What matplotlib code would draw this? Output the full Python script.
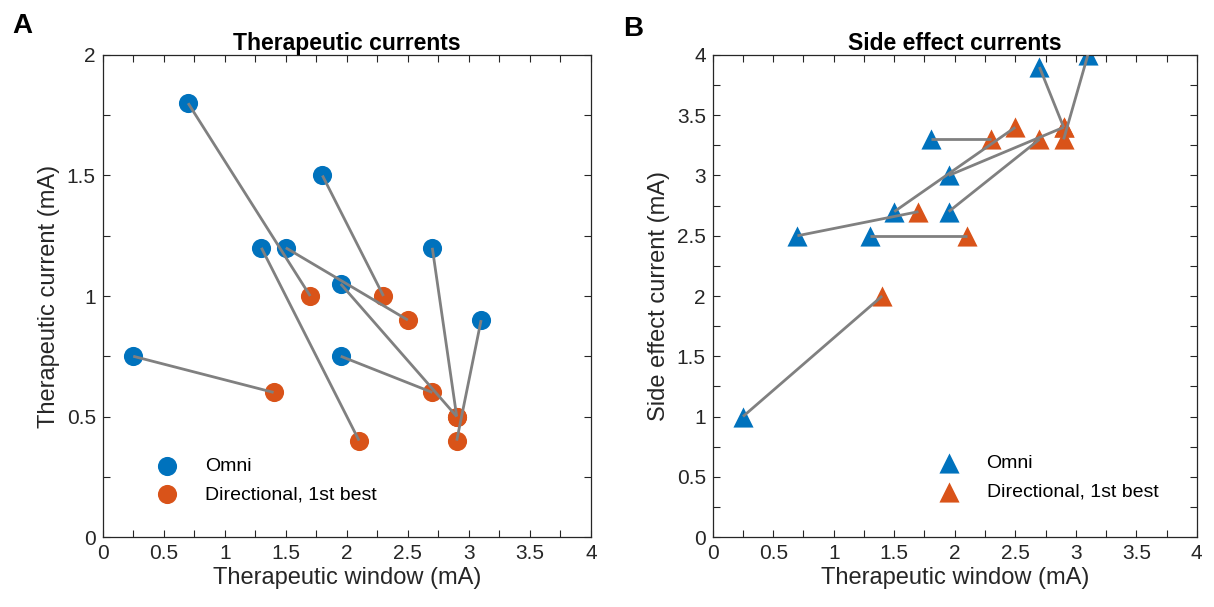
import numpy as np
import matplotlib.pyplot as plt
from matplotlib.ticker import MultipleLocator

plt.rcParams["font.family"] = ["Liberation Sans", "DejaVu Sans"]

# Values, one entry per subject
omni_window = [0.7, 1.8, 1.3, 1.5, 2.7, 3.1, 1.95, 1.95, 0.25]
omni_therapeutic = [1.8, 1.5, 1.2, 1.2, 1.2, 0.9, 1.05, 0.75, 0.75]
omni_side_effect = [2.5, 3.3, 2.5, 2.7, 3.9, 4.0, 3.0, 2.7, 1.0]

dir_window = [1.7, 2.3, 2.1, 2.5, 2.9, 2.9, 2.9, 2.7, 1.4]
dir_therapeutic = [1.0, 1.0, 0.4, 0.9, 0.5, 0.4, 0.5, 0.6, 0.6]
dir_side_effect = [2.7, 3.3, 2.5, 3.4, 3.4, 3.3, 3.4, 3.3, 2.0]

labels = ["Omni", "Directional, 1st best"]
blue = "#0072BD"
orange = "#D95319"
gray = "#808080"
axis_color = "#262626"

fig = plt.figure(figsize=(12.14, 6.07), dpi=100)
ax_a = fig.add_axes([0.0846, 0.1153, 0.4022, 0.7941])
ax_b = fig.add_axes([0.5871, 0.1153, 0.3987, 0.7941])


def draw_panel(ax, y_omni, y_dir, marker, ms, ymax, title, ylabel):
    ax.scatter(omni_window, y_omni, s=ms, marker=marker, color=blue,
               label=labels[0], zorder=2, linewidths=0)
    ax.scatter(dir_window, y_dir, s=ms, marker=marker, color=orange,
               label=labels[1], zorder=2, linewidths=0)
    for i in range(len(omni_window)):
        ax.plot([omni_window[i], dir_window[i]], [y_omni[i], y_dir[i]],
                color=gray, lw=2.0, zorder=3, solid_capstyle="butt")

    ax.set_xlim(0, 4)
    ax.set_ylim(0, ymax)
    ax.xaxis.set_major_locator(MultipleLocator(0.5))
    ax.xaxis.set_minor_locator(MultipleLocator(0.25))
    ax.yaxis.set_major_locator(MultipleLocator(0.5))
    ax.yaxis.set_minor_locator(MultipleLocator(0.25))
    ax.xaxis.set_major_formatter(lambda v, p: f"{v:g}")
    ax.yaxis.set_major_formatter(lambda v, p: f"{v:g}")
    ax.tick_params(which="both", direction="in", top=True, right=True,
                   colors=axis_color, labelsize=15, width=0.8)
    ax.tick_params(which="major", length=5, pad=5)
    ax.tick_params(which="minor", length=5)
    for s in ax.spines.values():
        s.set_color(axis_color)
        s.set_linewidth(0.9)

    ax.set_title(title, fontsize=16.5, fontweight="bold", color="black", pad=3)
    ax.set_xlabel("Therapeutic window (mA)", fontsize=17, color=axis_color,
                  labelpad=3)
    ax.set_ylabel(ylabel, fontsize=17, color=axis_color, labelpad=5)


draw_panel(ax_a, omni_therapeutic, dir_therapeutic, "o", 190, 2,
           "Therapeutic currents", "Therapeutic current (mA)")
draw_panel(ax_b, omni_side_effect, dir_side_effect, "^", 210, 4,
           "Side effect currents", "Side effect current (mA)")

ax_a.legend(loc="lower left", bbox_to_anchor=(0.072, 0.05), frameon=False,
            fontsize=14, handletextpad=0.95, labelspacing=0.55, borderpad=0)
ax_b.legend(loc="lower left", bbox_to_anchor=(0.427, 0.055), frameon=False,
            fontsize=14, handletextpad=0.95, labelspacing=0.55, borderpad=0)

fig.text(0.01, 0.945, "A", fontsize=20, fontweight="bold")
fig.text(0.513, 0.94, "B", fontsize=20, fontweight="bold")

fig.savefig("out.png", dpi=100)
